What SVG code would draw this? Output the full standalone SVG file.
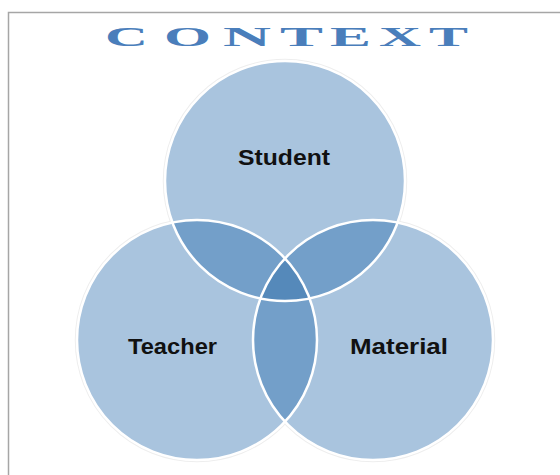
<svg xmlns="http://www.w3.org/2000/svg" width="560" height="475" viewBox="0 0 560 475">
<style>
.title{font-family:"Liberation Serif","Times New Roman",serif;font-weight:bold;font-size:27px;fill:#4A7EBB}
.lbl{font-family:"Liberation Sans",Arial,sans-serif;font-weight:bold;font-size:22px;fill:#111;text-anchor:start}
.base{fill:#A9C4DE}
.mid{fill:#739FC9}
.core{fill:#5589BA}
.edge{fill:none;stroke:#fff;stroke-width:2.5}
.shadow{fill:none;stroke:#eeeeee;stroke-width:1.5}
</style>
<defs>
<clipPath id="cS"><circle cx="285" cy="181" r="120"/></clipPath>
<clipPath id="cT"><circle cx="197" cy="340" r="120"/></clipPath>
<clipPath id="cM"><circle cx="373" cy="340" r="120"/></clipPath>
</defs>
<rect x="0" y="0" width="560" height="475" fill="#fff"/>
<rect x="8.5" y="12.5" width="600" height="500" fill="none" stroke="#a6a6a6" stroke-width="1.5"/>
<g id="title">
<text class="title" x="105" y="46" textLength="43" lengthAdjust="spacingAndGlyphs">C</text>
<text class="title" x="164" y="46" textLength="47" lengthAdjust="spacingAndGlyphs">O</text>
<text class="title" x="223" y="46" textLength="48" lengthAdjust="spacingAndGlyphs">N</text>
<text class="title" x="280" y="46" textLength="43" lengthAdjust="spacingAndGlyphs">T</text>
<text class="title" x="330" y="46" textLength="41" lengthAdjust="spacingAndGlyphs">E</text>
<text class="title" x="379" y="46" textLength="42" lengthAdjust="spacingAndGlyphs">X</text>
<text class="title" x="429" y="46" textLength="39" lengthAdjust="spacingAndGlyphs">T</text>
</g>
<g id="shadows">
<circle class="shadow" cx="285" cy="181" r="121.5"/>
<circle class="shadow" cx="197" cy="340" r="121.5"/>
<circle class="shadow" cx="373" cy="340" r="121.5"/>
</g>
<g id="student"><circle class="base" cx="285" cy="181" r="120"/></g>
<g id="teacher"><circle class="base" cx="197" cy="340" r="120"/></g>
<g id="material"><circle class="base" cx="373" cy="340" r="120"/></g>
<g id="overlaps">
<g clip-path="url(#cS)"><circle class="mid" cx="197" cy="340" r="120"/><circle class="mid" cx="373" cy="340" r="120"/></g>
<g clip-path="url(#cT)"><circle class="mid" cx="373" cy="340" r="120"/></g>
<g clip-path="url(#cS)"><g clip-path="url(#cT)"><circle class="core" cx="373" cy="340" r="120"/></g></g>
</g>
<g id="edges">
<circle class="edge" cx="285" cy="181" r="120"/>
<circle class="edge" cx="197" cy="340" r="120"/>
<circle class="edge" cx="373" cy="340" r="120"/>
</g>
<g id="labels">
<text class="lbl" x="238" y="165" textLength="92" lengthAdjust="spacingAndGlyphs">Student</text>
<text class="lbl" x="128" y="354" textLength="89" lengthAdjust="spacingAndGlyphs">Teacher</text>
<text class="lbl" x="350" y="354" textLength="98" lengthAdjust="spacingAndGlyphs">Material</text>
</g>
</svg>
